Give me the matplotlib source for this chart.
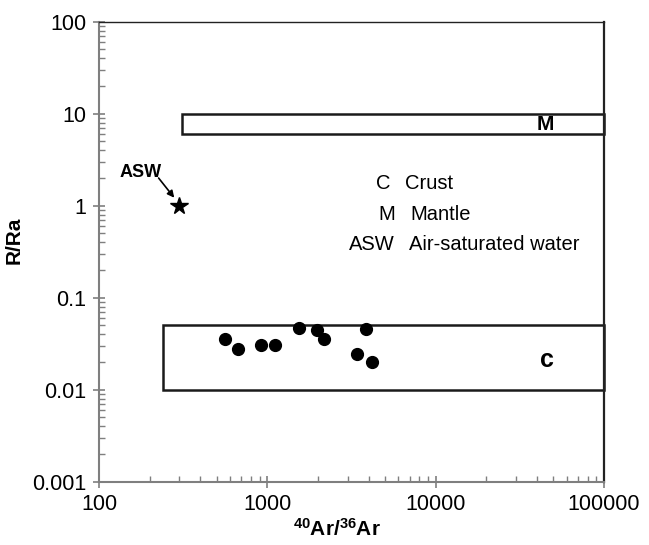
import numpy as np
import matplotlib.pyplot as plt
from matplotlib.patches import Rectangle
from matplotlib.ticker import LogLocator, NullFormatter, FixedLocator, FixedFormatter

plt.rcParams['font.family'] = ['Liberation Sans', 'DejaVu Sans']
plt.rcParams['mathtext.fontset'] = 'custom'
plt.rcParams['mathtext.rm'] = 'Liberation Sans'
plt.rcParams['mathtext.bf'] = 'Liberation Sans:bold'

# samples: 40Ar/36Ar vs R/Ra
ar_ratio = [560, 670, 920, 1110, 1540, 1960, 2160, 3880, 3430, 4190]
r_ra = [0.036, 0.028, 0.031, 0.0305, 0.0465, 0.0445, 0.0356, 0.0457, 0.0243, 0.0201]

# air-saturated water
asw_x = 300
asw_y = 1

# end-member boxes (x0, x1, y0, y1)
mantle_box = [310, 100000, 6, 10]
crust_box = [240, 100000, 0.01, 0.05]

x_ticks = [100, 1000, 10000, 100000]
x_ticklabels = ['100', '1000', '10000', '100000']
y_ticks = [0.001, 0.01, 0.1, 1, 10, 100]
y_ticklabels = ['0.001', '0.01', '0.1', '1', '10', '100']

legend_keys = ['C', 'M', 'ASW']
legend_names = ['Crust', 'Mantle', 'Air-saturated water']

fig = plt.figure(figsize=(6.49, 5.45), dpi=100)
ax = fig.add_axes([0.1525, 0.1161, 0.7782, 0.8441])
ax.set_xscale('log')
ax.set_yscale('log')
ax.set_xlim(100, 100000)
ax.set_ylim(0.001, 100)

# boxes
for b in [mantle_box, crust_box]:
    ax.add_patch(Rectangle((b[0], b[2]), b[1] - b[0], b[3] - b[2],
                           fill=False, edgecolor='#1a1a1a', linewidth=1.8,
                           zorder=2, clip_on=False))

ax.text(45000, 7.7, 'M', fontsize=15, fontweight='bold', ha='center', va='center')
ax.text(46000, 0.021, 'c', fontsize=18, fontweight='bold', ha='center', va='center')

# data
ax.plot(ar_ratio, r_ra, 'o', color='black', markersize=8.5, zorder=3)
ax.plot(asw_x, asw_y, '*', color='black', markersize=13, zorder=3)
ax.text(177, 2.3, 'ASW', fontsize=13, fontweight='bold', ha='center', va='center')
ax.annotate('', xy=(280, 1.22), xytext=(226, 2.0),
            arrowprops=dict(arrowstyle='-|>', color='black', lw=1.2,
                            mutation_scale=10, shrinkA=0, shrinkB=0))

# legend text
for i, (k, n) in enumerate(zip(legend_keys, legend_names)):
    yy = 1 - (183 + 31 * i) / 545
    kx = [383, 387, 372][i] / 649
    nx = [405, 410, 409][i] / 649
    fig.text(kx, yy, k, fontsize=14.5, ha='center', va='center')
    fig.text(nx, yy, n, fontsize=14.5, ha='left', va='center')

# axes styling
grey = '#7f7f7f'
for s in ['left', 'bottom']:
    ax.spines[s].set_color(grey)
    ax.spines[s].set_linewidth(1.5)
ax.spines['top'].set_color('#222222')
ax.spines['top'].set_linewidth(1.0)
ax.spines['right'].set_color('#222222')
ax.spines['right'].set_linewidth(1.6)

ax.xaxis.set_major_locator(FixedLocator(x_ticks))
ax.xaxis.set_major_formatter(FixedFormatter(x_ticklabels))
ax.yaxis.set_major_locator(FixedLocator(y_ticks))
ax.yaxis.set_major_formatter(FixedFormatter(y_ticklabels))
ax.xaxis.set_minor_locator(LogLocator(base=10, subs=np.arange(2, 10)))
ax.yaxis.set_minor_locator(LogLocator(base=10, subs=np.arange(2, 10)))
ax.xaxis.set_minor_formatter(NullFormatter())
ax.yaxis.set_minor_formatter(NullFormatter())
ax.tick_params(which='major', direction='inout', length=8, width=1.2, color=grey,
               labelsize=15.5, pad=5, top=False, right=False)
ax.tick_params(which='minor', direction='in', length=4, width=1.0, color=grey,
               top=False, right=False)

ax.set_xlabel(r'$\mathbf{^{40}Ar/^{36}Ar}$', fontsize=15)
ax.xaxis.set_label_coords((337 - 99) / 505, -0.078)
ax.set_ylabel('R/Ra', fontsize=15, fontweight='bold')
ax.yaxis.set_label_coords(-0.15, 0.525)

fig.savefig('out.png', dpi=100)
